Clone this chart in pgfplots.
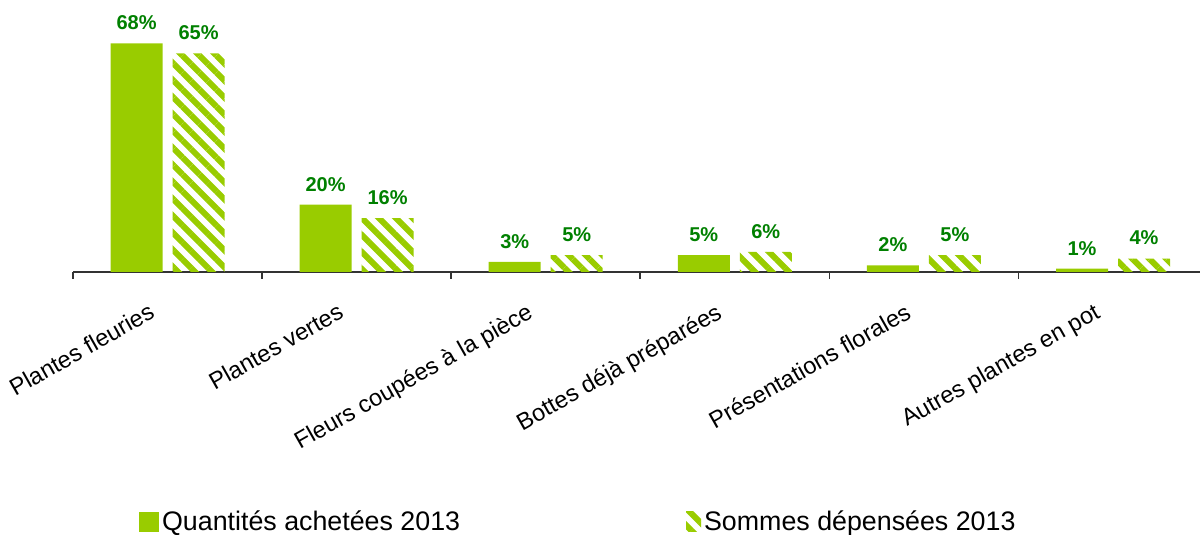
\documentclass[border=0pt]{standalone}
\usepackage{pgfplots}
\pgfplotsset{compat=1.18}
\usetikzlibrary{patterns.meta}
\usepackage{fontspec}
\setmainfont{Liberation Sans}
\definecolor{barg}{HTML}{99CC00}
\definecolor{labg}{HTML}{008000}
\begin{document}
\begin{tikzpicture}
\useasboundingbox (0,0) rectangle (600pt,267.5pt);
\begin{axis}[
  at={(36.5pt,131.5pt)}, anchor=south west,
  scale only axis, width=563.5pt, height=134.5pt,
  xmin=-0.5, xmax=5.46, ymin=0, ymax=80,
  ybar=5pt, bar width=26pt,
  axis x line=bottom, axis y line=none,
  x axis line style={-, draw=black!80, line width=0.8pt},
  xtick={0,...,5},
  xticklabels={Plantes fleuries, Plantes vertes, Fleurs coupées à la pièce, Bottes déjà préparées, Présentations florales, Autres plantes en pot},
  major tick length=0pt,
  minor xtick={-0.5,0.5,...,4.5},
  minor tick length=3.5pt,
  tick align=outside,
  minor tick style={draw=black!80, line width=0.8pt},
  xticklabel style={rotate=29.5, anchor=north east, inner sep=0pt, xshift=-16pt, yshift=-8pt, font=\fontsize{11.8}{14}\selectfont},
  ytick=\empty,
  /pgf/number format/assume math mode=true,
  nodes near coords={\pgfmathprintnumber{\pgfplotspointmeta}\%},
  every node near coord/.append style={font=\bfseries\fontsize{10}{12}\selectfont, text=labg, anchor=south, inner sep=0pt, yshift=6.5pt},
  clip=false,
  legend style={draw=none, at={(0.053,-0.929)}, anchor=west, legend columns=2,
    font=\fontsize{13.4}{15}\selectfont, nodes={inner xsep=1.5pt},
    /tikz/every even column/.append style={column sep=111.5pt}},
  legend cell align=left,
]
\addplot[draw=none, fill=barg,
  legend image code/.code={\fill[barg] (0pt,-5pt) rectangle (10pt,5pt);}]
  coordinates {(0,68) (1,20) (2,3) (3,5) (4,2) (5,1)};
\addlegendentry{Quantités achetées 2013}
\addplot[draw=none, pattern={Lines[angle=-45,distance=6pt,line width=3pt]}, pattern color=barg,
  legend image code/.code={\fill[pattern={Lines[angle=-45,distance=6pt,line width=3pt]}, pattern color=barg] (0pt,-5pt) rectangle (7.5pt,5pt);}]
  coordinates {(0,65) (1,16) (2,5) (3,6) (4,5) (5,4)};
\addlegendentry{Sommes dépensées 2013}
\end{axis}
\end{tikzpicture}
\end{document}
